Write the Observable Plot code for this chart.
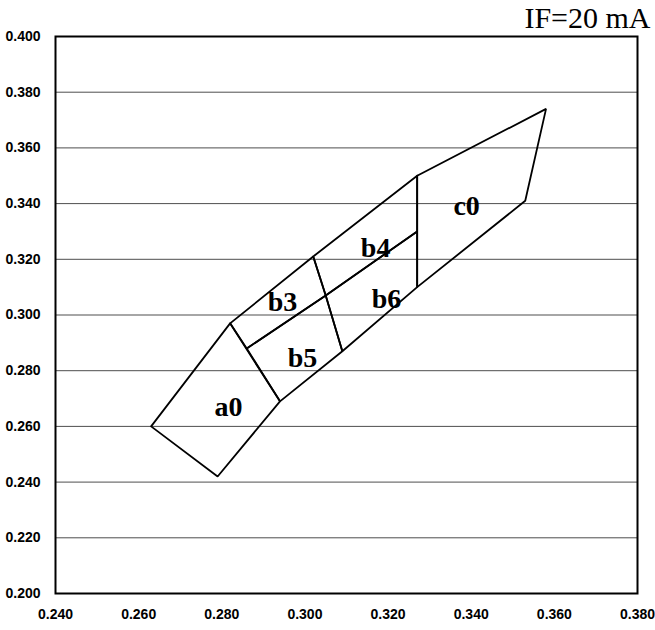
<!DOCTYPE html>
<html><head><meta charset="utf-8">
<script src="https://cdn.jsdelivr.net/npm/d3@7"></script>
<script src="https://cdn.jsdelivr.net/npm/@observablehq/plot@0.6"></script>
<style>body{margin:0;background:#fff}</style>
</head><body><div id="chart"></div>
<script>
const xTicks = [0.24, 0.26, 0.28, 0.30, 0.32, 0.34, 0.36, 0.38];
const yTicks = [0.20, 0.22, 0.24, 0.26, 0.28, 0.30, 0.32, 0.34, 0.36, 0.38, 0.40];
const bins = ["a0", "b3", "b4", "b5", "b6", "c0"];
const binX = [
  [0.263, 0.279, 0.294, 0.282],
  [0.282, 0.302, 0.305, 0.286],
  [0.302, 0.327, 0.327, 0.305],
  [0.286, 0.305, 0.309, 0.294],
  [0.305, 0.327, 0.327, 0.309],
  [0.327, 0.358, 0.353, 0.327]
];
const binY = [
  [0.260, 0.242, 0.269, 0.297],
  [0.297, 0.321, 0.307, 0.288],
  [0.321, 0.350, 0.330, 0.307],
  [0.288, 0.307, 0.287, 0.269],
  [0.307, 0.330, 0.310, 0.287],
  [0.350, 0.374, 0.341, 0.310]
];
const labelX = [0.2816, 0.2946, 0.3170, 0.2994, 0.3196, 0.3389];
const labelY = [0.2668, 0.3045, 0.3239, 0.2844, 0.3059, 0.3390];
const title = "IF=20 mA";

const outline = bins.flatMap((b, i) => {
  const pts = binX[i].map((x, j) => ({bin: b, x, y: binY[i][j]}));
  return [...pts, pts[0]];
});
const labels = bins.map((b, i) => ({bin: b, x: labelX[i], y: labelY[i]}));
const tickFont = "Liberation Sans Narrow, Arial Narrow, Liberation Sans, Arial, sans-serif";

const chart = Plot.plot({
  width: 655, height: 630,
  marginLeft: 55, marginRight: 18, marginTop: 36, marginBottom: 37,
  x: {domain: [0.24, 0.38]},
  y: {domain: [0.20, 0.40]},
  style: {background: "#fff"},
  marks: [
    Plot.gridY(yTicks, {stroke: "#222", strokeOpacity: 0.8, strokeWidth: 1}),
    Plot.line(outline, {x: "x", y: "y", z: "bin", stroke: "#000", strokeWidth: 1.8, strokeLinejoin: "miter"}),
    Plot.text(labels, {x: "x", y: "y", text: "bin", fontFamily: "Liberation Serif, DejaVu Serif, serif", fontSize: 28, fontWeight: "bold", fill: "#000"}),
    Plot.frame({stroke: "#000", strokeWidth: 2}),
    Plot.axisY(yTicks, {tickSize: 0, tickPadding: 15, tickFormat: d3.format(".3f"), label: null, fontFamily: tickFont, fontSize: 14, fontWeight: "bold", fill: "#000"}),
    Plot.axisX(xTicks, {tickSize: 0, tickPadding: 16, tickFormat: d3.format(".3f"), label: null, fontFamily: tickFont, fontSize: 14, fontWeight: "bold", fill: "#000"}),
    Plot.text([title], {frameAnchor: "top-right", dx: 13, dy: -18, textAnchor: "end", lineAnchor: "middle", fontFamily: "Liberation Serif, DejaVu Serif, serif", fontSize: 30, fill: "#000"})
  ]
});
document.getElementById("chart").append(chart);
</script>
</body></html>
